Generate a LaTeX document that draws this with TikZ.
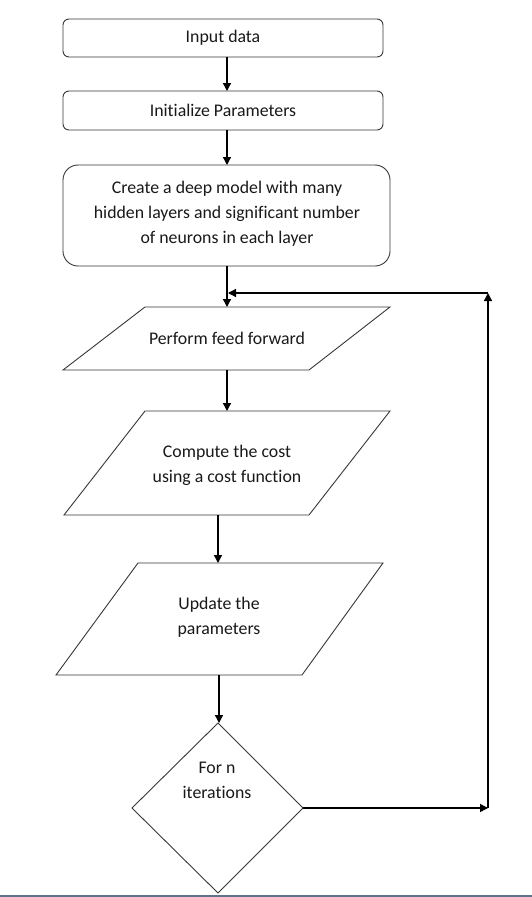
\documentclass[tikz,border=0pt]{standalone}
\usepackage{fontspec}
\setmainfont[Ligatures=NoCommon]{Carlito}
\usetikzlibrary{arrows.meta}
\definecolor{shapeline}{RGB}{55,55,55}
\definecolor{rulecolor}{RGB}{95,115,140}
\begin{document}
\begin{tikzpicture}[x=1pt,y=-1pt,
  shapeborder/.style={draw=shapeline,line width=0.9pt},
  flow/.style={draw=black,line width=1.4pt,-{Triangle[length=8pt,width=8pt]}},
  label/.style={font=\fontsize{17.8}{25}\selectfont,align=center,inner sep=0pt,text=black!90}]
\useasboundingbox (0,0) rectangle (532,897);
\fill[white] (0,0) rectangle (532,897);
% bottom rule
\draw[draw=rulecolor,line width=1.6pt] (0,895.7) -- (532,895.7);

% Box 1
\draw[shapeborder,rounded corners=6pt] (63,19) rectangle (383,57);
\node[label] (input) at (223,38) {Input data};
\coordinate (b1b) at (227,57);
% Box 2
\draw[shapeborder,rounded corners=6pt] (63,91) rectangle (383,130);
\node[label] (init) at (223,110.5) {Initialize Parameters};
\coordinate (b2t) at (227,91);
\coordinate (b2b) at (227,130);
% Box 3
\draw[shapeborder,rounded corners=15pt] (63,165) rectangle (390,266);
\node[label] (model) at (227,214) {Create a deep model with many\\hidden layers and significant number\\of neurons in each layer};
\coordinate (b3t) at (227,165);
\coordinate (b3b) at (227,266);
% Parallelogram 1
\draw[shapeborder] (145,307) -- (390,307) -- (309,370) -- (63,370) -- cycle;
\node[label] (ff) at (227,338) {Perform feed forward};
\coordinate (p1t) at (227,307);
\coordinate (p1b) at (227,370);
% Parallelogram 2
\draw[shapeborder] (145,411) -- (390,411) -- (309,515) -- (64,515) -- cycle;
\node[label] (cost) at (227,465) {Compute the cost\\using a cost function};
\coordinate (p2t) at (227,411);
\coordinate (p2b) at (218,515);
% Parallelogram 3
\draw[shapeborder] (138,563) -- (383,563) -- (302,675) -- (56,675) -- cycle;
\node[label] (upd) at (219,617.5) {Update the\\parameters};
\coordinate (p3t) at (218,563);
\coordinate (p3b) at (219,675);
% Diamond
\draw[shapeborder] (218,723) -- (303,808) -- (218,893) -- (132,808) -- cycle;
\node[label] (iter) at (217,780) {For n\\iterations};
\coordinate (dt) at (219,723);
\coordinate (dr) at (303,808);
% loop corners
\coordinate (c1) at (488,808);
\coordinate (c2) at (488,293);
\coordinate (j) at (228,293);

% connectors
\draw[flow] (b1b) -- (b2t);
\draw[flow] (b2b) -- (b3t);
\draw[flow] (b3b) -- (p1t);
\draw[flow] (p1b) -- (p2t);
\draw[flow] (p2b) -- (p3t);
\draw[flow] (p3b) -- (dt);
\draw[flow] (dr) -- (c1);
\draw[flow] (c1) -- (c2);
\draw[flow] (c2) -- (j);
\end{tikzpicture}
\end{document}
